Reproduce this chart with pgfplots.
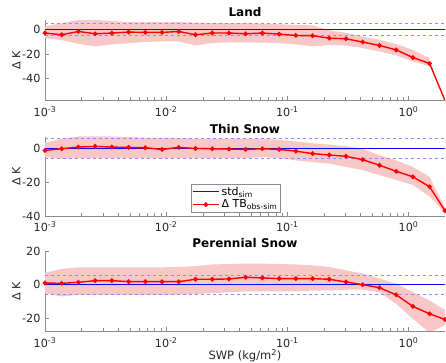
\documentclass[border=0pt]{standalone}
\usepackage{fontspec}
\setmainfont{DejaVu Sans}
\usepackage{pgfplots}
\pgfplotsset{compat=1.18}
\definecolor{bandred}{RGB}{248,200,200}
\definecolor{dashblue}{RGB}{140,140,250}
\definecolor{stdblue}{RGB}{10,10,245}
\definecolor{axgray}{RGB}{140,140,140}
\definecolor{txt}{RGB}{38,38,38}

\begin{document}
\begin{tikzpicture}
% ---------- Land ----------
\begin{semilogxaxis}[scale only axis, width=400pt, height=80pt, at={(45pt,263pt)}, anchor=south west,
  xmin=0.001, xmax=2, ymin=-57.6, ymax=8, ytick={-40,-20,0},
  axis x line*=bottom, axis y line*=left,
  axis line style={axgray}, tick style={axgray}, tick align=inside,
  tick label style={font=\fontsize{11.2}{12}\selectfont, text=txt},
  xtick={0.001,0.01,0.1,1},
  xticklabels={10\textsuperscript{-3},10\textsuperscript{-2},10\textsuperscript{-1},10\textsuperscript{0}},
  yticklabel style={xshift=-1pt}, xticklabel style={yshift=-3pt},
  ylabel={Δ K}, ylabel style={font=\fontsize{11.2}{12}\selectfont, text=txt, yshift=-5pt},
  title={Land}, title style={font=\bfseries\fontsize{12}{13}\selectfont, yshift=-6.5pt},
  yticklabel={\pgfmathprintnumber[assume math mode=true]{\tick}}]
\addplot[fill=bandred, draw=none, forget plot] coordinates {
(0.001000,2.7) (0.001374,5.5) (0.001888,8.0) (0.002594,8.0) (0.003564,7.0) (0.004897,6.3)
(0.006729,6.3) (0.009246,6.3) (0.012705,6.3) (0.017457,5.8) (0.023986,5.5) (0.032958,5.5)
(0.045286,5.5) (0.062225,5.0) (0.085499,4.5) (0.117479,4.0) (0.161421,3.6) (0.221800,-0.5)
(0.304764,-2.5) (0.418760,-5.5) (0.575396,-8.2) (0.790621,-11.8) (1.086347,-16.5) (1.492688,-23.3)
(1.492688,-30.0) (1.086347,-26.0) (0.790621,-21.0) (0.575396,-17.8) (0.418760,-15.0) (0.304764,-13.0)
(0.221800,-12.5) (0.161421,-13.7) (0.117479,-12.0) (0.085499,-11.0) (0.062225,-10.5) (0.045286,-10.4)
(0.032958,-10.4) (0.023986,-10.8) (0.017457,-12.9) (0.012705,-9.6) (0.009246,-9.6) (0.006729,-10.0)
(0.004897,-11.0) (0.003564,-12.0) (0.002594,-13.7) (0.001888,-11.5) (0.001374,-8.5) (0.001000,-6.9)
} -- cycle;
\addplot[draw=stdblue, line width=1.3pt, forget plot] coordinates {(0.001,0) (2,0)};
\addplot[draw=dashblue, dashed, line width=0.8pt, forget plot] coordinates {(0.001,4.8) (2,4.8)};
\addplot[draw=dashblue, dashed, line width=0.8pt, forget plot] coordinates {(0.001,-4.8) (2,-4.8)};
\addplot[color=red, line width=1.4pt, mark=*, mark size=1.6pt] coordinates {
(0.001000,-2.7) (0.001374,-4.1) (0.001888,-1.4) (0.002594,-3.3) (0.003564,-2.7) (0.004897,-1.9)
(0.006729,-2.2) (0.009246,-2.2) (0.012705,-1.4) (0.017457,-4.1) (0.023986,-2.7) (0.032958,-2.7)
(0.045286,-3.3) (0.062225,-2.7) (0.085499,-3.6) (0.117479,-4.7) (0.161421,-4.9) (0.221800,-6.9)
(0.304764,-7.4) (0.418760,-10.1) (0.575396,-12.9) (0.790621,-16.5) (1.086347,-22.8) (1.492688,-27.7)
(2.000000,-58.0)};
\end{semilogxaxis}
% ---------- Thin Snow ----------
\begin{semilogxaxis}[scale only axis, width=400pt, height=79pt, at={(45pt,147pt)}, anchor=south west,
  xmin=0.001, xmax=2, ymin=-40, ymax=7, ytick={-40,-20,0},
  axis x line*=bottom, axis y line*=left,
  axis line style={axgray}, tick style={axgray}, tick align=inside,
  tick label style={font=\fontsize{11.2}{12}\selectfont, text=txt},
  xtick={0.001,0.01,0.1,1},
  xticklabels={10\textsuperscript{-3},10\textsuperscript{-2},10\textsuperscript{-1},10\textsuperscript{0}},
  yticklabel style={xshift=-1pt}, xticklabel style={yshift=-2pt},
  ylabel={Δ K}, ylabel style={font=\fontsize{11.2}{12}\selectfont, text=txt, yshift=-5pt},
  title={Thin Snow}, title style={font=\bfseries\fontsize{12}{13}\selectfont, yshift=-6pt},
  yticklabel={\pgfmathprintnumber[assume math mode=true]{\tick}},
  legend style={at={(0.365,0.05)}, anchor=south west, font=\fontsize{11}{12}\selectfont, draw=axgray,
    inner xsep=1pt, inner ysep=0.5pt, row sep=-1pt},
  legend image code/.code={\draw[mark repeat=2, mark phase=2, #1] plot coordinates {(0pt,0pt) (13pt,0pt) (26pt,0pt)};},
  legend cell align=left]
\addplot[fill=bandred, draw=none, forget plot] coordinates {
(0.001000,3.5) (0.001374,6.0) (0.001888,7.3) (0.002594,7.3) (0.003564,7.3) (0.004897,7.0)
(0.006729,6.5) (0.009246,6.5) (0.012705,6.3) (0.017457,6.0) (0.023986,6.0) (0.032958,6.0)
(0.045286,6.0) (0.062225,5.9) (0.085499,5.3) (0.117479,4.3) (0.161421,3.3) (0.221800,2.5)
(0.304764,1.5) (0.418760,0.0) (0.575396,-3.9) (0.790621,-6.9) (1.086347,-10.8) (1.492688,-16.7)
(2.000000,-35.0)
(2.000000,-38.0) (1.492688,-28.4) (1.086347,-21.5) (0.790621,-18.6) (0.575396,-15.7) (0.418760,-12.7)
(0.304764,-10.8) (0.221800,-8.8) (0.161421,-8.0) (0.117479,-6.9) (0.085499,-5.5) (0.062225,-5.0)
(0.045286,-5.5) (0.032958,-5.5) (0.023986,-5.5) (0.017457,-5.5) (0.012705,-5.5) (0.009246,-5.8)
(0.006729,-5.5) (0.004897,-5.5) (0.003564,-5.5) (0.002594,-5.5) (0.001888,-5.5) (0.001374,-6.0)
(0.001000,-5.0)
} -- cycle;
\addplot[draw=stdblue, line width=0.8pt, forget plot] coordinates {(0.001,0) (2,0)};
\addlegendimage{draw=stdblue, line width=0.9pt}
\addlegendentry{std\textsubscript{sim}}
\addplot[draw=dashblue, dashed, line width=0.8pt, forget plot] coordinates {(0.001,6.2) (2,6.2)};
\addplot[draw=dashblue, dashed, line width=0.8pt, forget plot] coordinates {(0.001,-6.0) (2,-6.0)};
\addplot[color=red, line width=1.4pt, mark=*, mark size=1.6pt] coordinates {
(0.001000,-1.0) (0.001374,0.0) (0.001888,1.0) (0.002594,1.4) (0.003564,1.0) (0.004897,0.8)
(0.006729,0.6) (0.009246,-0.4) (0.012705,0.8) (0.017457,0.2) (0.023986,0.0) (0.032958,-0.2)
(0.045286,-0.4) (0.062225,0.0) (0.085499,-0.4) (0.117479,-1.4) (0.161421,-2.9) (0.221800,-3.7)
(0.304764,-4.5) (0.418760,-6.5) (0.575396,-9.8) (0.790621,-13.4) (1.086347,-16.7) (1.492688,-22.6)
(2.000000,-36.9)};
\addlegendentry{Δ TB\textsubscript{obs-sim}}
\end{semilogxaxis}
% ---------- Perennial Snow ----------
\begin{semilogxaxis}[scale only axis, width=400pt, height=80pt, at={(45pt,32pt)}, anchor=south west,
  xmin=0.001, xmax=2, ymin=-27.5, ymax=20, ytick={-20,0,20},
  axis x line*=bottom, axis y line*=left,
  axis line style={axgray}, tick style={axgray}, tick align=inside,
  tick label style={font=\fontsize{11.2}{12}\selectfont, text=txt},
  xtick={0.001,0.01,0.1,1},
  xticklabels={10\textsuperscript{-3},10\textsuperscript{-2},10\textsuperscript{-1},10\textsuperscript{0}},
  yticklabel style={xshift=-1pt}, xticklabel style={yshift=-3pt},
  ylabel={Δ K}, ylabel style={font=\fontsize{11.2}{12}\selectfont, text=txt, yshift=-5pt},
  title={Perennial Snow}, title style={font=\bfseries\fontsize{12}{13}\selectfont, yshift=-6pt},
  yticklabel={\pgfmathprintnumber[assume math mode=true]{\tick}},
  xlabel={SWP (kg/m\textsuperscript{2})}, xlabel style={font=\fontsize{11.5}{12}\selectfont, text=txt, yshift=5pt}]
\addplot[fill=bandred, draw=none, forget plot] coordinates {
(0.001000,7.0) (0.001374,9.4) (0.001888,10.3) (0.002594,10.3) (0.003564,10.3) (0.004897,10.3)
(0.006729,10.3) (0.009246,10.3) (0.012705,10.5) (0.017457,11.0) (0.023986,12.0) (0.032958,12.3)
(0.045286,12.5) (0.062225,12.5) (0.085499,12.3) (0.117479,12.0) (0.161421,11.5) (0.221800,10.5)
(0.304764,8.5) (0.418760,6.6) (0.575396,3.6) (0.790621,0.6) (1.086347,-4.4) (1.492688,-9.4)
(2.000000,-15.0)
(2.000000,-24.0) (1.492688,-28.5) (1.086347,-20.3) (0.790621,-11.4) (0.575396,-4.4) (0.418760,-3.0)
(0.304764,-3.0) (0.221800,-3.4) (0.161421,-3.5) (0.117479,-4.0) (0.085499,-4.0) (0.062225,-4.0)
(0.045286,-4.0) (0.032958,-4.5) (0.023986,-5.0) (0.017457,-5.5) (0.012705,-6.0) (0.009246,-6.0)
(0.006729,-6.0) (0.004897,-6.0) (0.003564,-6.0) (0.002594,-6.0) (0.001888,-6.0) (0.001374,-7.0)
(0.001000,-5.0)
} -- cycle;
\addplot[draw=stdblue, line width=1.0pt] coordinates {(0.001,0) (2,0)};
\addplot[draw=dashblue, dashed, line width=0.8pt, forget plot] coordinates {(0.001,5.7) (2,5.7)};
\addplot[draw=dashblue, dashed, line width=0.8pt, forget plot] coordinates {(0.001,-5.8) (2,-5.8)};
\addplot[color=red, line width=1.4pt, mark=*, mark size=1.6pt] coordinates {
(0.001000,1.0) (0.001374,0.8) (0.001888,1.4) (0.002594,2.4) (0.003564,2.4) (0.004897,1.8)
(0.006729,1.8) (0.009246,1.8) (0.012705,1.8) (0.017457,3.2) (0.023986,3.2) (0.032958,3.4)
(0.045286,4.4) (0.062225,4.0) (0.085499,3.6) (0.117479,3.6) (0.161421,3.6) (0.221800,3.2)
(0.304764,1.6) (0.418760,0.0) (0.575396,-1.8) (0.790621,-6.0) (1.086347,-12.9) (1.492688,-17.3)
(2.000000,-20.7)};
\end{semilogxaxis}
\pgfresetboundingbox
\path (0pt,0pt) rectangle (446pt,363pt);
\end{tikzpicture}
\end{document}
